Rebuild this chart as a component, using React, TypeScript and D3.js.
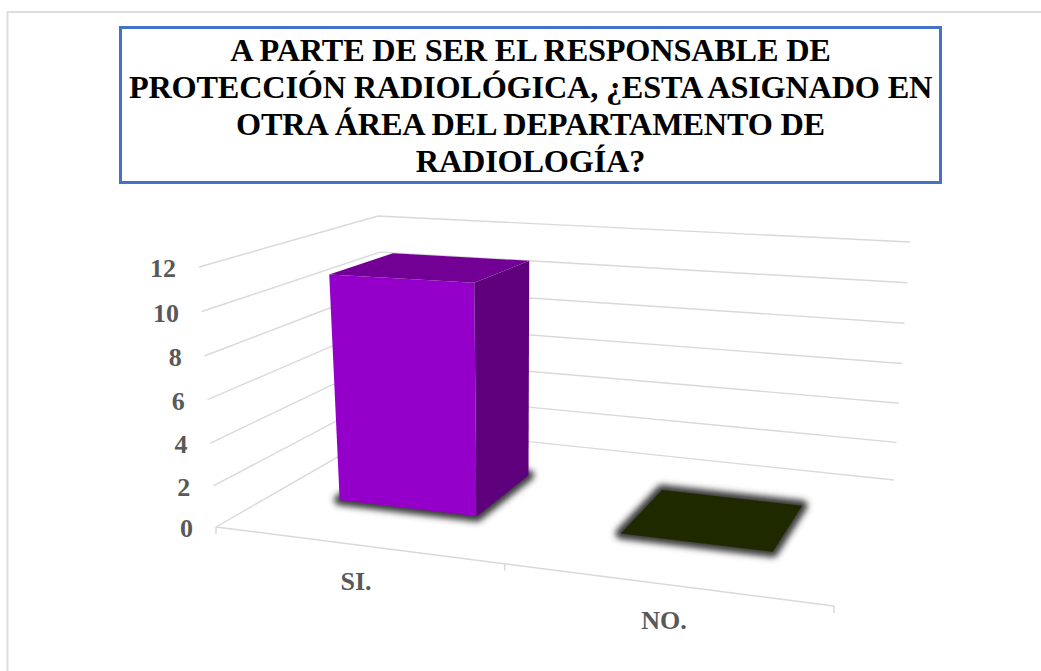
import React from "react";
import * as d3 from "d3";

const categories = ["SI.", "NO."];
const values = [11, 0];
const yTicks = [0, 2, 4, 6, 8, 10, 12];
const titleLines = [
  "A PARTE DE SER EL RESPONSABLE DE",
  "PROTECCIÓN RADIOLÓGICA, ¿ESTA ASIGNADO EN",
  "OTRA ÁREA DEL DEPARTAMENTO DE",
  "RADIOLOGÍA?",
];
const barColors = [
  { front: "#9400C9", side: "#5E007B", top: "#720095" },
  { front: "#1F2900", side: "#1F2900", top: "#1F2900" },
];

type P = [number, number];
// Perspective box: floor and ceiling quads, order front-left, front-right, back-right, back-left
const floorQuad: P[] = [[216, 527], [834, 606], [894, 480], [390, 427]];
const ceilQuad: P[] = [[199, 267], [825, 300], [910, 242], [378, 216]];

function homography(q: P[]) {
  const [[x0, y0], [x1, y1], [x2, y2], [x3, y3]] = q;
  const dx1 = x1 - x2, dx2 = x3 - x2, sx = x0 - x1 + x2 - x3;
  const dy1 = y1 - y2, dy2 = y3 - y2, sy = y0 - y1 + y2 - y3;
  const det = dx1 * dy2 - dx2 * dy1;
  const g = (sx * dy2 - dx2 * sy) / det;
  const h = (dx1 * sy - sx * dy1) / det;
  const a = x1 - x0 + g * x1, b = x3 - x0 + h * x3;
  const d = y1 - y0 + g * y1, e = y3 - y0 + h * y3;
  return (u: number, w: number): P => {
    const den = g * u + h * w + 1;
    return [(a * u + b * w + x0) / den, (d * u + e * w + y0) / den];
  };
}
const floorH = homography(floorQuad);
const ceilH = homography(ceilQuad);
const vScale = d3.scalePow().exponent(1.03).domain([0, 12]).range([0, 1]);
const project = (u: number, w: number, v: number): P => {
  const a = floorH(u, w), b = ceilH(u, w), t = vScale(v);
  return [a[0] + (b[0] - a[0]) * t, a[1] + (b[1] - a[1]) * t];
};
const xBand = d3.scaleBand<string>().domain(categories).range([0, 1]).paddingInner(0.5).paddingOuter(0.25).align(0.48);
const depth = d3.scaleLinear().domain([0, 1]).range([0.3, 0.68]);
const line = d3.line<P>();
const poly = (pts: P[]) => line(pts)! + "Z";
const GRID = "#D9D9D9";
const TEXT = "#595959";
const SERIF = "'Liberation Serif', serif";
const boundary = xBand(categories[0])! + xBand.step() - xBand.bandwidth() / 2;

export default function App() {
  return (
    <svg width={1041} height={671} style={{ position: "absolute", left: 0, top: 0, display: "block", background: "#fff" }}>
      <defs>
        <filter id="sh" x="-30%" y="-30%" width="160%" height="160%">
          <feGaussianBlur stdDeviation="3.4" />
        </filter>
      </defs>
      <rect x={7.5} y={12} width={1100} height={700} fill="#fff" stroke="#DDDDDD" strokeWidth={2} />
      <rect x={120.5} y={27.5} width={820} height={155} fill="#fff" stroke="#4472C4" strokeWidth={3} />
      {titleLines.map((t, i) => (
        <text key={t} x={530.5} y={61 + i * 37} textAnchor="middle" fontFamily={SERIF} fontWeight={700} fontSize={32.3} letterSpacing={-0.2} fill="#000">{t}</text>
      ))}
      {yTicks.map((v) => (
        <path key={v} d={line([project(0, 0, v), project(0, 1, v), project(1, 1, v)])!} fill="none" stroke={GRID} strokeWidth={1.4} />
      ))}
      <path d={line([project(0, 0, 0), project(1, 0, 0)])!} fill="none" stroke={GRID} strokeWidth={1.5} />
      {[0, boundary, 1].map((u) => {
        const p = project(u, 0, 0);
        return <line key={u} x1={p[0]} y1={p[1]} x2={p[0]} y2={p[1] + 7} stroke={GRID} strokeWidth={1.5} />;
      })}
      {yTicks.map((v) => {
        const p = project(0, 0, v);
        return (
          <text key={v} x={p[0] - 23} y={p[1] + 10} textAnchor="end" fontFamily={SERIF} fontWeight={700} fontSize={26} fill={TEXT}>{v}</text>
        );
      })}
      {categories.map((c, i) => {
        const u0 = xBand(c)!, u1 = u0 + xBand.bandwidth();
        const w0 = depth(0), w1 = depth(1), v = values[i], col = barColors[i];
        const fl = project(u0, w0, 0), fr = project(u1, w0, 0), br = project(u1, w1, 0), bl = project(u0, w1, 0);
        const tfl = project(u0, w0, v), tfr = project(u1, w0, v), tbr = project(u1, w1, v), tbl = project(u0, w1, v);
        return (
          <g key={c}>
            <path d={poly([fl, fr, br, bl])} fill="#3A3A3A" stroke="#3A3A3A" strokeWidth={11} strokeLinejoin="round" filter="url(#sh)" />
            <path d={poly([fl, fr, tfr, tfl])} fill={col.front} />
            <path d={poly([fr, br, tbr, tfr])} fill={col.side} />
            <path d={poly([tfl, tfr, tbr, tbl])} fill={col.top} />
          </g>
        );
      })}
      {categories.map((c) => {
        const p = project(xBand(c)! + xBand.bandwidth() / 2, 0, 0);
        return (
          <text key={c} x={p[0] + 1} y={p[1] + 45} textAnchor="middle" fontFamily={SERIF} fontWeight={700} fontSize={26} fill={TEXT}>{c}</text>
        );
      })}
    </svg>
  );
}
